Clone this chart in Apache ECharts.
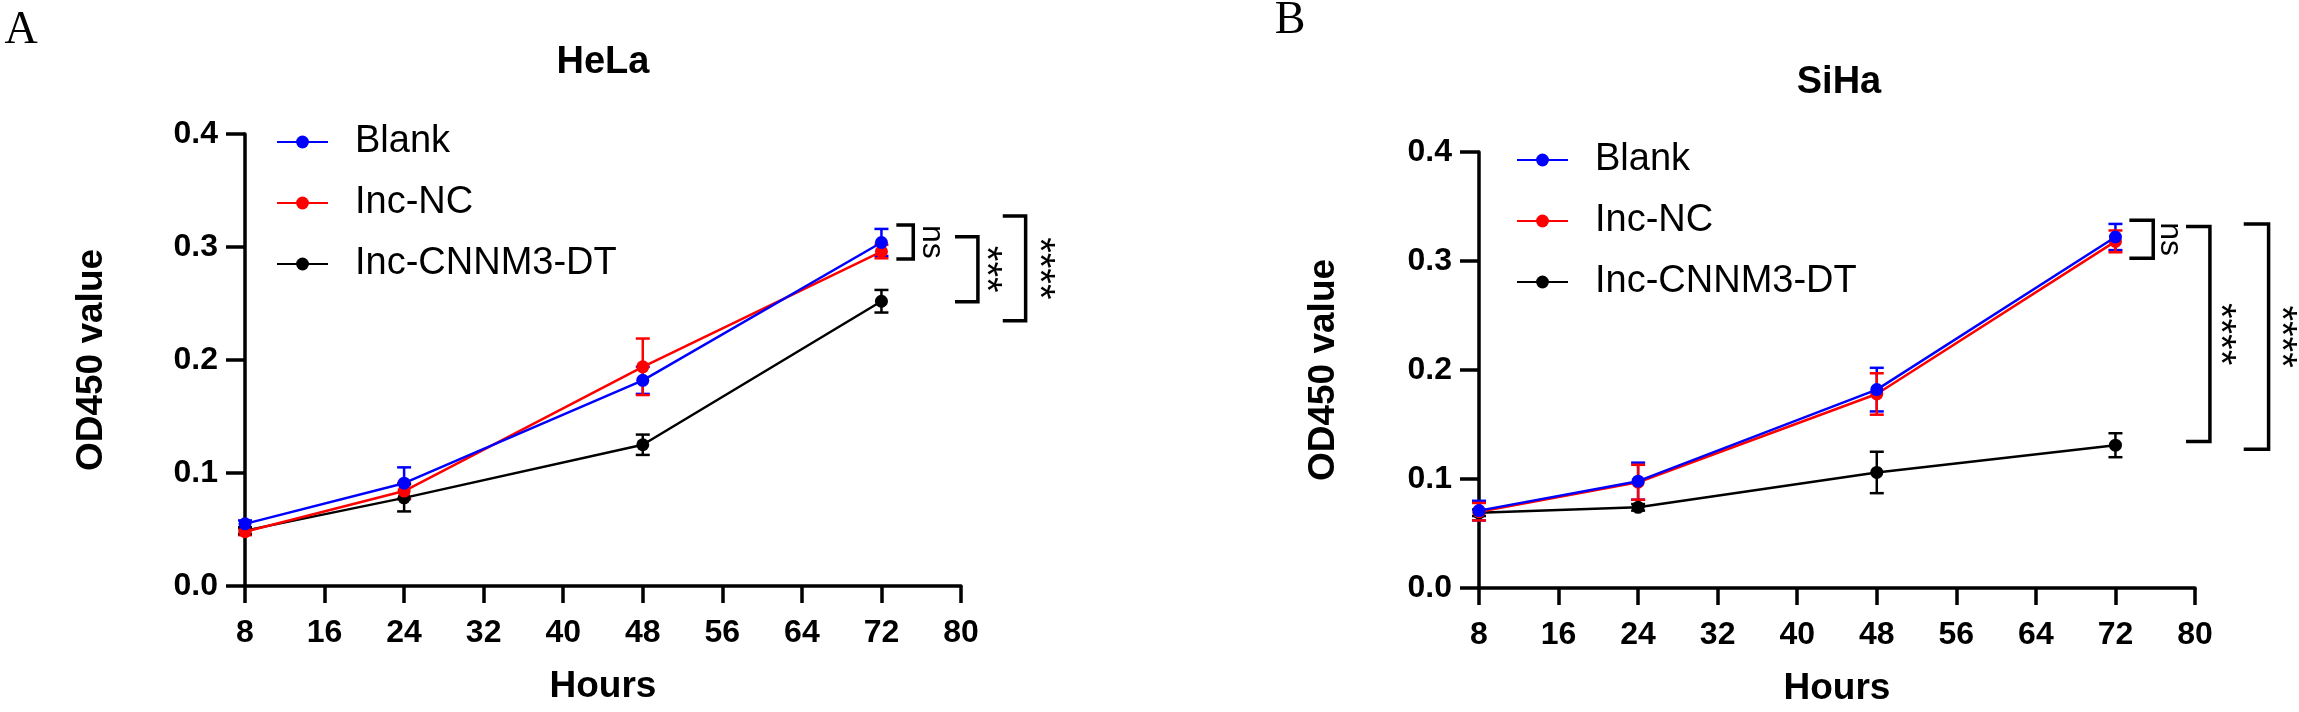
<!DOCTYPE html>
<html lang="en">
<head>
    <meta charset="UTF-8">
    <title>OD450 - HeLa / SiHa</title>
    <script src="https://cdn.jsdelivr.net/npm/echarts@6/dist/echarts.min.js"></script>
    <style>
        html, body { margin: 0; padding: 0; background: #fff; }
        #main { width: 2299px; height: 712px; }
    </style>
</head>
<body>
<div id="main"></div>
<script type="text/javascript">
    // 数据
    var hours = [8, 24, 48, 72];
    var groupNames = ['Blank', 'Inc-NC', 'Inc-CNNM3-DT'];
    var groupColors = ['#0000ff', '#ff0000', '#000000'];

    // HeLa
    var helaBlank = [0.055, 0.091, 0.182, 0.304];
    var helaBlankSd = [0.003, 0.014, 0.012, 0.012];
    var helaNC = [0.048, 0.084, 0.194, 0.296];
    var helaNCSd = [0.003, 0.007, 0.025, 0.006];
    var helaDT = [0.049, 0.078, 0.125, 0.252];
    var helaDTSd = [0.003, 0.012, 0.009, 0.010];

    // SiHa
    var sihaBlank = [0.071, 0.098, 0.182, 0.322];
    var sihaBlankSd = [0.009, 0.017, 0.020, 0.012];
    var sihaNC = [0.070, 0.097, 0.178, 0.318];
    var sihaNCSd = [0.008, 0.016, 0.019, 0.010];
    var sihaDT = [0.069, 0.074, 0.106, 0.131];
    var sihaDTSd = [0.003, 0.003, 0.019, 0.011];

    // 显著性标记: [x1, x2, yTop, yBottom, textX, text]
    var helaMarks = [
        [73.5, 75.2, 0.3195, 0.2894, 77.1, 'ns'],
        [79.4, 81.7, 0.3091, 0.2516, 82.4, '***'],
        [84.2, 86.5, 0.3274, 0.2348, 87.7, '****']
    ];
    var sihaMarks = [
        [73.4, 75.8, 0.3375, 0.3025, 77.5, 'ns'],
        [79.1, 81.5, 0.3316, 0.1343, 82.4, '****'],
        [84.9, 87.4, 0.3339, 0.1274, 88.6, '****']
    ];

    var font = "'Liberation Sans', Arial, Helvetica, sans-serif";

    function lineSeries(idx, g, mean) {
        return {
            type: 'line',
            name: groupNames[g],
            xAxisIndex: idx,
            yAxisIndex: idx,
            data: hours.map(function (h, i) { return [h, mean[i]]; }),
            symbol: 'circle',
            symbolSize: 13,
            showSymbol: true,
            lineStyle: { color: groupColors[g], width: 2.5 },
            itemStyle: { color: groupColors[g] },
            z: 5 - g,
            animation: false
        };
    }

    function errSeries(idx, g, mean, sd) {
        var color = groupColors[g];
        return {
            type: 'custom',
            name: groupNames[g],
            xAxisIndex: idx,
            yAxisIndex: idx,
            silent: true,
            z: 2,
            renderItem: function (params, api) {
                var lo = api.coord([api.value(0), api.value(1)]);
                var hi = api.coord([api.value(0), api.value(2)]);
                var w = 7;
                var st = { stroke: color, lineWidth: 2.5 };
                return {
                    type: 'group',
                    children: [
                        { type: 'line', shape: { x1: lo[0], y1: lo[1], x2: hi[0], y2: hi[1] }, style: st },
                        { type: 'line', shape: { x1: lo[0] - w, y1: lo[1], x2: lo[0] + w, y2: lo[1] }, style: st },
                        { type: 'line', shape: { x1: hi[0] - w, y1: hi[1], x2: hi[0] + w, y2: hi[1] }, style: st }
                    ]
                };
            },
            encode: { x: 0, y: [1, 2] },
            data: hours.map(function (h, i) { return [h, mean[i] - sd[i], mean[i] + sd[i]]; }),
            animation: false
        };
    }

    function markSeries(idx, rows) {
        return {
            type: 'custom',
            xAxisIndex: idx,
            yAxisIndex: idx,
            silent: true,
            clip: false,
            z: 6,
            renderItem: function (params, api) {
                var r = rows[params.dataIndex];
                var a = api.coord([r[0], r[2]]);
                var b = api.coord([r[1], r[3]]);
                var t = api.coord([r[4], (r[2] + r[3]) / 2]);
                return {
                    type: 'group',
                    children: [
                        {
                            type: 'polyline',
                            shape: { points: [[a[0], a[1]], [b[0], a[1]], [b[0], b[1]], [a[0], b[1]]] },
                            style: { stroke: '#000', lineWidth: 3.5, fill: null }
                        },
                        {
                            type: 'text',
                            x: t[0], y: t[1],
                            rotation: -Math.PI / 2,
                            style: {
                                text: r[5], fontSize: r[5] === 'ns' ? 32 : 40, fontFamily: font, fill: '#000',
                                align: 'center', verticalAlign: 'middle'
                            }
                        }
                    ]
                };
            },
            data: rows.map(function (r) { return [r[0], r[2]]; }),
            animation: false
        };
    }

    function xAxis(idx) {
        return {
            type: 'value', gridIndex: idx, min: 8, max: 80, interval: 8,
            name: 'Hours', nameLocation: 'middle', nameGap: 82,
            nameTextStyle: { fontSize: 37, fontWeight: 'bold', fontFamily: font, color: '#000' },
            axisLine: { show: true, lineStyle: { color: '#000', width: 3.5 } },
            axisTick: { show: true, length: 17, lineStyle: { color: '#000', width: 3.5 } },
            axisLabel: { fontSize: 32, fontWeight: 'bold', fontFamily: font, color: '#000', margin: 31 },
            splitLine: { show: false }
        };
    }

    function yAxis(idx, gap) {
        return {
            type: 'value', gridIndex: idx, min: 0, max: 0.4, interval: 0.1,
            name: 'OD450 value', nameLocation: 'middle', nameGap: gap,
            nameTextStyle: { fontSize: 37, fontWeight: 'bold', fontFamily: font, color: '#000' },
            axisLine: { show: true, lineStyle: { color: '#000', width: 3.5 } },
            axisTick: { show: true, length: 19, lineStyle: { color: '#000', width: 3.5 } },
            axisLabel: {
                fontSize: 32, fontWeight: 'bold', fontFamily: font, color: '#000', margin: 27,
                formatter: function (v) { return v.toFixed(1); }
            },
            splitLine: { show: false }
        };
    }

    function legend(left, top) {
        return {
            data: groupNames, orient: 'vertical', left: left, top: top,
            itemWidth: 51, itemHeight: 16, itemGap: 19,
            textStyle: { fontSize: 38, fontFamily: font, color: '#000', lineHeight: 42, padding: [0, 0, 0, 22] }
        };
    }

    var myChart = echarts.init(document.getElementById('main'));

    var option = {
        backgroundColor: '#fff',
        animation: false,
        grid: [
            { left: 245, top: 134, width: 716, height: 452 },
            { left: 1479, top: 152, width: 716, height: 446 }
        ],
        xAxis: [xAxis(0), xAxis(1)],
        yAxis: [yAxis(0, 135), yAxis(1, 137)],
        legend: [legend(271, 116), legend(1511, 134)],
        graphic: [
            { type: 'text', x: 21, y: 31, style: { text: 'A', fontSize: 46, fontFamily: "'Liberation Serif', 'Times New Roman', serif", fill: '#000', align: 'center', verticalAlign: 'middle' } },
            { type: 'text', x: 1290, y: 21, style: { text: 'B', fontSize: 46, fontFamily: "'Liberation Serif', 'Times New Roman', serif", fill: '#000', align: 'center', verticalAlign: 'middle' } },
            { type: 'text', x: 603, y: 63, style: { text: 'HeLa', fontSize: 38, fontWeight: 'bold', fontFamily: font, fill: '#000', align: 'center', verticalAlign: 'middle' } },
            { type: 'text', x: 1839, y: 83, style: { text: 'SiHa', fontSize: 38, fontWeight: 'bold', fontFamily: font, fill: '#000', align: 'center', verticalAlign: 'middle' } }
        ],
        series: [
            lineSeries(0, 0, helaBlank),
            lineSeries(0, 1, helaNC),
            lineSeries(0, 2, helaDT),
            lineSeries(1, 0, sihaBlank),
            lineSeries(1, 1, sihaNC),
            lineSeries(1, 2, sihaDT),
            errSeries(0, 0, helaBlank, helaBlankSd),
            errSeries(0, 1, helaNC, helaNCSd),
            errSeries(0, 2, helaDT, helaDTSd),
            errSeries(1, 0, sihaBlank, sihaBlankSd),
            errSeries(1, 1, sihaNC, sihaNCSd),
            errSeries(1, 2, sihaDT, sihaDTSd),
            markSeries(0, helaMarks),
            markSeries(1, sihaMarks)
        ]
    };

    myChart.setOption(option);
</script>
</body>
</html>
